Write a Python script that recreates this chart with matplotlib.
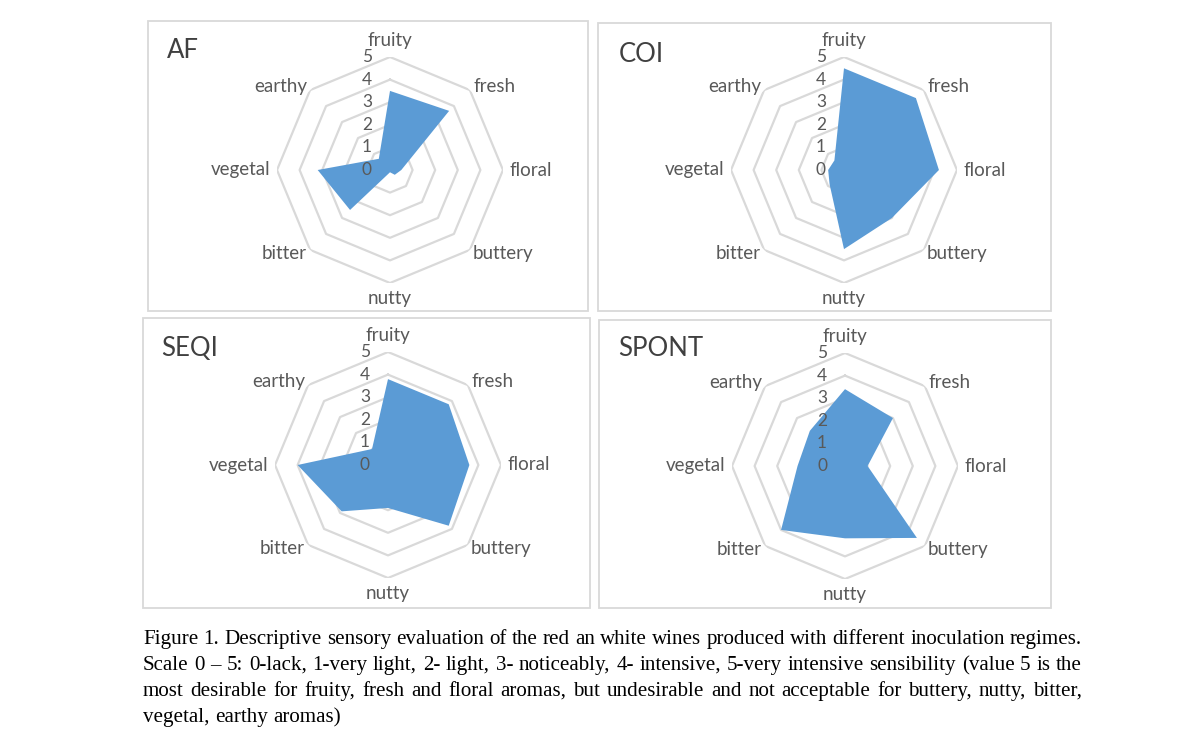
import numpy as np
import matplotlib
matplotlib.use("Agg")
import matplotlib.pyplot as plt
from matplotlib.patches import Rectangle
from matplotlib.transforms import offset_copy

# sensory attributes, clockwise from the top
categories = ["fruity", "fresh", "floral", "buttery", "nutty", "bitter", "vegetal", "earthy"]
ticks = [0, 1, 2, 3, 4, 5]

af = [3.5, 3.7, 0.5, 0.3, 0.1, 2.5, 3.2, 0.7]
coi = [4.5, 4.5, 4.2, 3.0, 3.5, 0.9, 0.7, 0.6]
seqi = [3.8, 3.8, 3.6, 3.8, 1.9, 2.9, 4.0, 1.0]
spont = [3.4, 3.0, 1.0, 4.5, 3.2, 4.0, 2.1, 2.2]

titles = ["AF", "COI", "SEQI", "SPONT"]
series = [af, coi, seqi, spont]

caption = [
    "Figure 1. Descriptive sensory evaluation of the red an white wines produced with different inoculation regimes.",
    "Scale 0 \u2013 5:  0-lack, 1-very light, 2- light, 3- noticeably, 4- intensive, 5-very intensive sensibility (value 5 is the",
    "most desirable for fruity, fresh and floral aromas, but undesirable and not acceptable for buttery, nutty, bitter,",
    "vegetal, earthy aromas)",
]

W, H = 1200, 753
fig = plt.figure(figsize=(W / 100, H / 100), dpi=100)

# layout in pixels (from the top-left corner)
centers = [(390, 170), (844, 170), (388, 465), (845, 466)]
boxes = [(148, 21, 588, 311), (598, 23, 1051, 311), (143, 318, 590, 608), (599, 320, 1051, 608)]
title_pos = [(167, 51), (619, 55), (161, 348), (618, 348)]
R = 113  # radius of ring 5 in px

blue = "#5b9bd5"
grid = "#d9d9d9"
txt = "#595959"
font = "Lato"

for (x0, y0, x1, y1) in boxes:
    fig.add_artist(Rectangle((x0 / W, 1 - y1 / H), (x1 - x0) / W, (y1 - y0) / H,
                             transform=fig.transFigure, fill=False, ec=grid, lw=1.3))

angles = np.linspace(0, 2 * np.pi, len(categories), endpoint=False)
ang_closed = np.append(angles, angles[0])

# label placement: radius and alignment for each axis
lab_r = [5.75, 5.2, 5.3, 5.2, 5.7, 5.2, 5.3, 5.2]
lab_ha = ["center", "left", "left", "left", "center", "right", "right", "right"]

for i, vals in enumerate(series):
    cx, cy = centers[i]
    ax = fig.add_axes([(cx - R) / W, 1 - (cy + R) / H, 2 * R / W, 2 * R / H], projection="polar")
    ax.set_theta_offset(np.pi / 2)
    ax.set_theta_direction(-1)
    ax.set_ylim(0, 5)
    ax.grid(False)
    ax.spines["polar"].set_visible(False)
    ax.set_xticks([])
    ax.set_yticks([])
    ax.patch.set_visible(False)

    for r in ticks[1:]:
        ax.plot(ang_closed, [r] * len(ang_closed), color=grid, lw=1.6, zorder=1)

    v = np.append(vals, vals[0])
    ax.fill(ang_closed, v, color=blue, lw=0, zorder=2)

    tr = offset_copy(ax.transData, fig=fig, x=-23, y=0, units="dots")
    for r in ticks:
        ax.text(0, r, str(r), transform=tr, ha="center", va="center",
                color=txt, fontsize=12.5, family=font, zorder=3)

    for a, name, rr, ha in zip(angles, categories, lab_r, lab_ha):
        ax.text(a, rr, name, ha=ha, va="center", color=txt, fontsize=13.5, family=font)

    tx, ty = title_pos[i]
    fig.text(tx / W, 1 - ty / H, titles[i], ha="left", va="center", color="#404040",
             fontsize=18.5, family=font)

# caption, justified like the source
x_left, x_right = 143, 1082
baseline_y = [644, 670, 696, 722]
renderer = fig.canvas.get_renderer()
cap_kw = dict(family="Liberation Serif", fontsize=10, color="black")


def width_of(s):
    t = fig.text(0, 0, s, **cap_kw)
    w = t.get_window_extent(renderer).width
    t.remove()
    return w


# pick the size so the first line fills the column on its own
cap_kw["fontsize"] = 10 * (x_right - x_left) / width_of(caption[0])

space_w = width_of("a b") - width_of("ab")
for k, line in enumerate(caption):
    words = [w for w in line.split(" ") if w != ""]
    widths = [width_of(w) for w in words]
    if k < len(caption) - 1:
        gap = (x_right - x_left - sum(widths)) / (len(words) - 1)
    else:
        gap = space_w
    x = x_left
    for w, wd in zip(words, widths):
        fig.text(x / W, 1 - baseline_y[k] / H, w, ha="left", va="baseline", **cap_kw)
        x += wd + gap

fig.savefig("out.png", dpi=100)
